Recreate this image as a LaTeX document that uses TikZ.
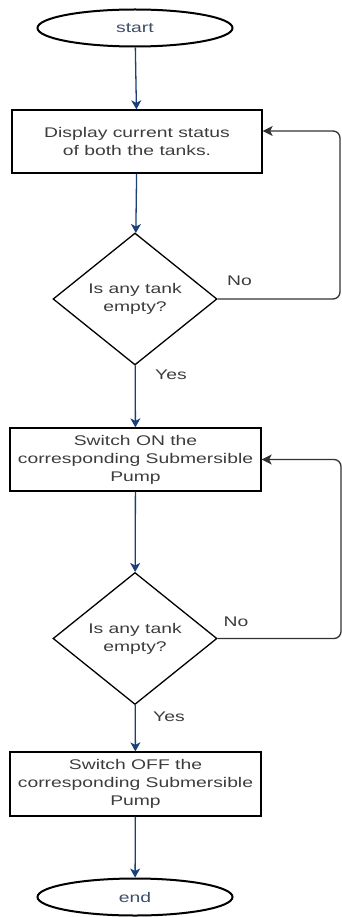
\documentclass[tikz,border=0pt]{standalone}
\usepackage{fontspec}
\newfontfamily\chartfont{Liberation Sans}[FakeStretch=1.38]
\usepackage{tikz}
\usetikzlibrary{arrows.meta, positioning, shapes.geometric}
\usepackage{xcolor}
\definecolor{flowblue}{RGB}{25,65,120}
\definecolor{txtgray}{RGB}{60,60,60}
\definecolor{termtxt}{RGB}{60,78,105}
\definecolor{loopgray}{RGB}{50,50,50}

\begin{document}
\begin{tikzpicture}[
    x=1pt, y=-1pt,
    every node/.style = {font=\chartfont\fontsize{14}{18}\selectfont, text=txtgray},
    terminal/.style = {ellipse, draw, line width=2pt, minimum width=195pt, minimum height=37pt, inner sep=0pt, text=termtxt},
    procbox/.style = {rectangle, draw, line width=1.3pt, minimum width=250pt, minimum height=63pt, inner sep=0pt, align=center},
    decide/.style = {diamond, draw, line width=1.3pt, minimum width=164pt, minimum height=132pt, aspect=1.24, inner sep=0pt, align=center},
    flow/.style = {draw=flowblue, line width=1.3pt, -{Stealth[length=9pt, width=10pt, inset=2.5pt]}},
    back/.style = {draw=loopgray, line width=1.3pt, rounded corners=7pt, -{Stealth[length=10pt, width=10pt, inset=2.5pt]}},
    lbl/.style = {inner sep=0pt}
  ]
  \useasboundingbox (0,0) rectangle (342,917);

  % nodes at explicit coordinates (in px of the reference)
  \node[terminal] (start)   at (135,28)    {start};
  \node[procbox]  (display) at (137,141.5) {Display current status\\of both the tanks.};
  \node[decide]   (check1)  at (135,299)   {Is any tank\\empty?};
  \node[procbox, minimum width=251pt]  (pumpon)  at (135.5,459.5) {Switch ON the\\corresponding Submersible\\Pump};
  \node[decide]   (check2)  at (135,638.5) {Is any tank\\empty?};
  \node[procbox, minimum width=251pt, minimum height=64pt] (pumpoff) at (135.5,784) {Switch OFF the\\corresponding Submersible\\Pump};
  \node[terminal] (end)     at (135,897)   {end};

  % turning points of the two loops
  \coordinate (turn1) at (340,131);
  \coordinate (turn2) at (341,459.5);

  % main flow down the page
  \draw[flow] (start) -- (display);
  \draw[flow] (display) -- (check1);
  \draw[flow] (check1) -- (pumpon);
  \draw[flow] (pumpon) -- (check2);
  \draw[flow] (check2) -- (pumpoff);
  \draw[flow] (pumpoff) -- (end);

  % "No" loops back up on the right
  \draw[back] (check1.east) -| (turn1) -- (display.east |- turn1);
  \draw[back] (check2.east) -| (turn2) -- (pumpon.east);

  % branch labels
  \node[lbl] (no1)  at (239.5,281) {No};
  \node[lbl] (yes1) at (171,375)   {Yes};
  \node[lbl] (no2)  at (236,622)   {No};
  \node[lbl] (yes2) at (169,717)   {Yes};
\end{tikzpicture}
\end{document}
